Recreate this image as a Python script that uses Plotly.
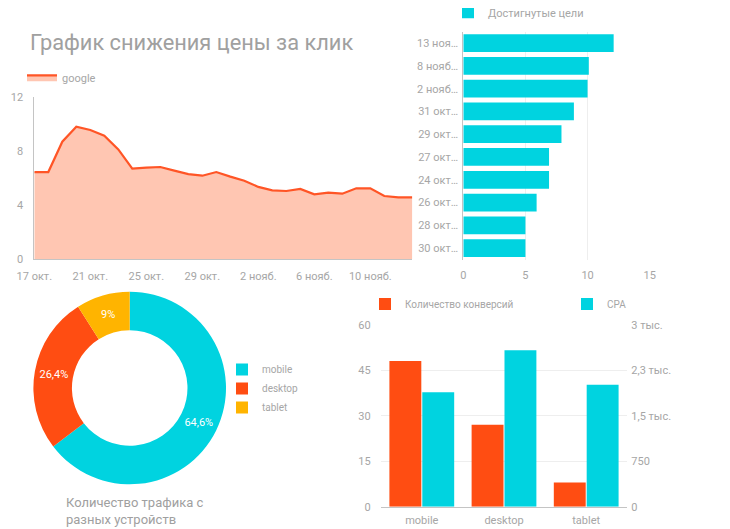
import plotly.graph_objects as go

# The page body keeps its default 8px margin, so the figure is drawn 8px
# smaller and every reference pixel position is shifted by that offset.
OFF = 8
W, H = 730 - OFF, 529 - OFF

def dx(a, b):
    return [(a - OFF) / W, (b - OFF) / W]

def dy(top, bottom):
    return [1 - (bottom - OFF) / H, 1 - (top - OFF) / H]

def px(a):
    return (a - OFF) / W

def py(a):
    return 1 - (a - OFF) / H

# ---------------- data ----------------
dates = ["2018-10-17", "2018-10-18", "2018-10-19", "2018-10-20", "2018-10-21",
         "2018-10-22", "2018-10-23", "2018-10-24", "2018-10-25", "2018-10-26",
         "2018-10-27", "2018-10-28", "2018-10-29", "2018-10-30", "2018-10-31",
         "2018-11-01", "2018-11-02", "2018-11-03", "2018-11-04", "2018-11-05",
         "2018-11-06", "2018-11-07", "2018-11-08", "2018-11-09", "2018-11-10",
         "2018-11-11", "2018-11-12", "2018-11-13"]
cpc_google = [6.44, 6.44, 8.68, 9.79, 9.54, 9.12, 8.11, 6.69, 6.76, 6.81,
              6.54, 6.29, 6.17, 6.44, 6.10, 5.80, 5.34, 5.09, 5.04, 5.19,
              4.79, 4.92, 4.84, 5.24, 5.24, 4.67, 4.57, 4.57]
line_tickvals = ["2018-10-17", "2018-10-21", "2018-10-25", "2018-10-29",
                 "2018-11-02", "2018-11-06", "2018-11-10"]
line_ticktext = ["17 окт.", "21 окт.", "25 окт.", "29 окт.",
                 "2 нояб.", "6 нояб.", "10 нояб."]

goal_dates = ["13 ноя…", "8 нояб…", "2 нояб…", "31 окт…", "29 окт…",
              "27 окт…", "24 окт…", "26 окт…", "28 окт…", "30 окт…"]
goals = [12.1, 10.1, 10.0, 8.9, 7.9, 6.9, 6.9, 5.9, 5.0, 5.0]

devices = ["mobile", "desktop", "tablet"]
traffic_share = [64.6, 26.4, 9.0]
share_labels = ["64,6%", "26,4%", "9%"]

conversions = [48, 27, 8]
cpa = [1885, 2580, 2010]
cpa_tickvals = [0, 750, 1500, 2250, 3000]
cpa_ticktext = ["0", "750", "1,5 тыс.", "2,3 тыс.", "3 тыс."]

# ---------------- style ----------------
CYAN = "#00D3E0"
ORANGE = "#FF4D12"
LINE_OR = "#FF5526"
FILL_OR = "#FFC6B2"
AMBER = "#FFB400"
TXT = "#a6a6a6"
AXL = "#c4c4c4"
GRID = "#eeeeee"
FONT = "Roboto"

fig = go.Figure()

fig.add_trace(go.Scatter(
    x=dates, y=cpc_google, mode="lines", name="google", showlegend=True,
    line=dict(color=LINE_OR, width=2.2), fill="tozeroy", fillcolor=FILL_OR,
    xaxis="x", yaxis="y", legend="legend"))

fig.add_trace(go.Bar(
    x=goals, y=goal_dates, orientation="h", name="Достигнутые цели",
    showlegend=True,
    marker=dict(color=CYAN, line=dict(width=0)), width=0.78,
    xaxis="x2", yaxis="y2", legend="legend2"))

fig.add_trace(go.Pie(
    labels=devices, values=traffic_share, text=share_labels,
    textinfo="text", textposition="inside", insidetextorientation="horizontal",
    textfont=dict(color="white", size=11, family=FONT),
    marker=dict(colors=[CYAN, ORANGE, AMBER], line=dict(width=0)),
    hole=0.6, sort=False, direction="clockwise", rotation=0,
    domain=dict(x=dx(33.4, 226), y=dy(291.7, 484.3)),
    showlegend=True, legend="legend3"))

fig.add_trace(go.Bar(
    x=devices, y=conversions, name="Количество конверсий", showlegend=True,
    marker=dict(color=ORANGE, line=dict(width=0)), offsetgroup="1",
    xaxis="x3", yaxis="y3", legend="legend4"))
fig.add_trace(go.Bar(
    x=devices, y=cpa, name="CPA", showlegend=True,
    marker=dict(color=CYAN, line=dict(width=0)), offsetgroup="2",
    xaxis="x3", yaxis="y4", legend="legend5"))

tick_font = dict(family=FONT, size=11, color=TXT)

def leg(x, y, size=11, yanchor="middle", **kw):
    d = dict(x=x, y=y, xanchor="left", yanchor=yanchor, bgcolor="rgba(0,0,0,0)",
             font=dict(family=FONT, size=size, color=TXT), borderwidth=0)
    d.update(kw)
    return d

fig.update_layout(
    width=W, height=H, autosize=False,
    margin=dict(l=0, r=0, t=0, b=0, pad=0, autoexpand=False),
    showlegend=True,
    paper_bgcolor="white", plot_bgcolor="white",
    font=dict(family=FONT, color=TXT),
    barmode="group", bargap=0.2, bargroupgap=0.03,
    xaxis=dict(domain=dx(34.3, 412.3), anchor="y", type="date",
               range=[dates[0], dates[-1]], tickvals=line_tickvals,
               ticktext=line_ticktext, showgrid=False, zeroline=False,
               showline=True, linecolor=AXL, tickfont=tick_font,
               ticks="", ticklabelstandoff=6, automargin=False),
    yaxis=dict(domain=dy(96.7, 259.3), anchor="x", range=[0, 12],
               tickvals=[0, 4, 8, 12], showgrid=False, zeroline=False,
               showline=True, linecolor=AXL, tickfont=tick_font,
               ticks="", ticklabelstandoff=8, automargin=False),
    xaxis2=dict(domain=dx(463.3, 649.7), anchor="y2", range=[0, 15],
                tickvals=[0, 5, 10, 15], showgrid=True, gridcolor=GRID,
                zeroline=False, showline=False, tickfont=tick_font,
                ticks="", ticklabelstandoff=7, automargin=False),
    yaxis2=dict(domain=dy(31.7, 259.5), anchor="x2", autorange="reversed",
                showgrid=False, zeroline=False, showline=True, linecolor=AXL,
                tickfont=tick_font, ticks="", ticklabelstandoff=2,
                automargin=False),
    xaxis3=dict(domain=dx(380.7, 627.3), anchor="y3", showgrid=False,
                zeroline=False, showline=True, linecolor=AXL,
                tickfont=tick_font, ticks="", ticklabelstandoff=3,
                automargin=False),
    yaxis3=dict(domain=dy(324.7, 506.7), anchor="x3", range=[0, 60],
                tickvals=[0, 15, 30, 45, 60], showgrid=True, gridcolor=GRID,
                zeroline=False, showline=False, tickfont=tick_font,
                ticks="", ticklabelstandoff=9, automargin=False),
    yaxis4=dict(overlaying="y3", anchor="x3", side="right", range=[0, 3000],
                tickvals=cpa_tickvals, ticktext=cpa_ticktext, showgrid=False,
                zeroline=False, showline=False, tickfont=tick_font,
                ticks="", ticklabelstandoff=3, automargin=False),
    legend=leg(px(22), py(77.3)),
    legend2=leg(px(448), py(12.3)),
    legend3=leg(px(222), py(388.5), size=10, tracegroupgap=0),
    legend4=leg(px(365), py(304), size=10),
    legend5=leg(px(567), py(304), size=10),
    annotations=[
        dict(text="График снижения цены за клик", x=px(28), y=py(43),
             xref="paper", yref="paper", xanchor="left", yanchor="middle",
             showarrow=False, font=dict(family=FONT, size=21.8, color="#a0a0a0")),
        dict(text="Количество трафика с<br>разных устройств", x=px(64), y=py(511),
             xref="paper", yref="paper", xanchor="left", yanchor="middle",
             align="left", showarrow=False,
             font=dict(family=FONT, size=13, color="#a0a0a0")),
    ],
)

fig.write_html("out.html")
